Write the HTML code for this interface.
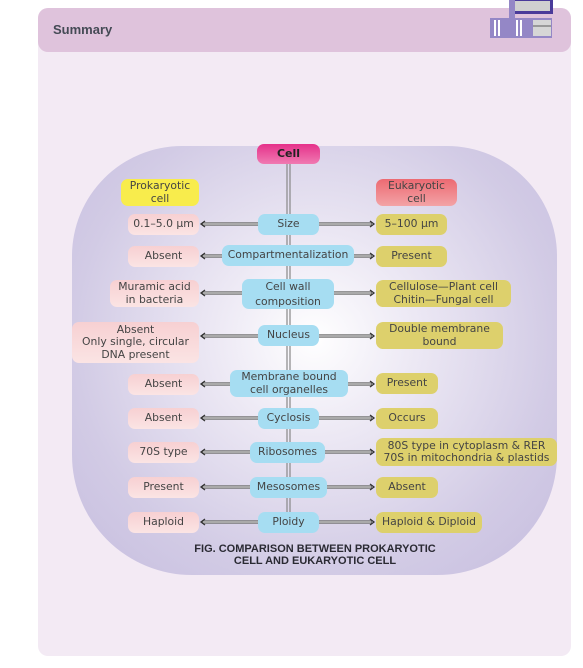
<!DOCTYPE html>
<html><head><meta charset="utf-8"><style>
*{margin:0;padding:0;box-sizing:border-box}
body{width:583px;height:668px;background:#fff;position:relative;overflow:hidden;font-family:"Liberation Sans",sans-serif}
.card{position:absolute;left:38px;top:8px;width:533px;height:648px;background:#f3eaf4;border-radius:10px}
.hdr{position:absolute;left:38px;top:8px;width:533px;height:44px;background:#dfc3dc;border-radius:10px}
.hdr span{position:absolute;left:15px;top:14px;font-weight:bold;font-size:13px;color:#444a55}
.blob{position:absolute;left:72px;top:146px;width:485px;height:429px;border-radius:110px 110px 120px 120px;background:radial-gradient(ellipse at 50% 45%,#ffffff 0%,#ece8f4 30%,#d2cbe5 70%,#c6bddf 100%)}
.b{position:absolute;display:flex;align-items:center;justify-content:center;text-align:center;font-family:"DejaVu Sans",sans-serif;font-size:10.8px;line-height:12.5px;color:#444;border-radius:7px;white-space:nowrap}
.c{background:#a6ddf2}
.p{background:linear-gradient(#f7d0d2,#fbe4e4)}
.o{background:#ddd06c}
svg{position:absolute;left:0;top:0}
.cap{position:absolute;left:150px;top:543px;width:330px;text-align:center;font-weight:bold;font-size:11px;line-height:12px;color:#2a2a33}
</style></head><body>
<div class="card"></div>
<div class="hdr"><span>Summary</span></div>
<svg width="583" height="60" style="z-index:2">
<rect x="509" y="0" width="44" height="14" fill="#4a3a9a"/>
<rect x="514" y="1" width="36" height="10" fill="#d0d0d0"/>
<rect x="509" y="0" width="6" height="19" fill="#9487c6"/>
<rect x="490" y="18" width="62" height="20" fill="#9487c6"/>
<rect x="533" y="20" width="18" height="16" fill="#d6d6d6"/>
<rect x="533" y="25" width="18" height="2" fill="#999"/>
<rect x="494" y="20" width="2" height="16" fill="#fff"/>
<rect x="498" y="20" width="2" height="16" fill="#fff"/>
<rect x="516" y="20" width="2" height="16" fill="#fff"/>
<rect x="520" y="20" width="2" height="16" fill="#fff"/>
</svg>
<div class="blob"></div>
<svg width="583" height="668">
<g stroke="#888" stroke-width="1.2" fill="none">
<line x1="287" y1="164" x2="287" y2="514"/><line x1="290" y1="164" x2="290" y2="514"/>
</g>
<g stroke="#777" stroke-width="3.5" fill="none">
<line x1="202" y1="224" x2="258" y2="224"/><line x1="319" y1="224" x2="372" y2="224"/>
<line x1="202" y1="256" x2="222" y2="256"/><line x1="354" y1="256" x2="372" y2="256"/>
<line x1="202" y1="293" x2="242" y2="293"/><line x1="334" y1="293" x2="372" y2="293"/>
<line x1="202" y1="336" x2="258" y2="336"/><line x1="319" y1="336" x2="372" y2="336"/>
<line x1="202" y1="384" x2="230" y2="384"/><line x1="348" y1="384" x2="372" y2="384"/>
<line x1="202" y1="418" x2="258" y2="418"/><line x1="319" y1="418" x2="372" y2="418"/>
<line x1="202" y1="452" x2="250" y2="452"/><line x1="325" y1="452" x2="372" y2="452"/>
<line x1="202" y1="487" x2="250" y2="487"/><line x1="327" y1="487" x2="372" y2="487"/>
<line x1="202" y1="522" x2="258" y2="522"/><line x1="319" y1="522" x2="372" y2="522"/>
</g>
<g stroke="#ddd" stroke-width="1" fill="none">
<line x1="203" y1="224" x2="258" y2="224"/><line x1="319" y1="224" x2="371" y2="224"/>
<line x1="203" y1="256" x2="222" y2="256"/><line x1="354" y1="256" x2="371" y2="256"/>
<line x1="203" y1="293" x2="242" y2="293"/><line x1="334" y1="293" x2="371" y2="293"/>
<line x1="203" y1="336" x2="258" y2="336"/><line x1="319" y1="336" x2="371" y2="336"/>
<line x1="203" y1="384" x2="230" y2="384"/><line x1="348" y1="384" x2="371" y2="384"/>
<line x1="203" y1="418" x2="258" y2="418"/><line x1="319" y1="418" x2="371" y2="418"/>
<line x1="203" y1="452" x2="250" y2="452"/><line x1="325" y1="452" x2="371" y2="452"/>
<line x1="203" y1="487" x2="250" y2="487"/><line x1="327" y1="487" x2="371" y2="487"/>
<line x1="203" y1="522" x2="258" y2="522"/><line x1="319" y1="522" x2="371" y2="522"/>
</g>
<g fill="none" stroke="#333" stroke-width="1.3">
<path d="M205 221 L201 224 L205 227"/><path d="M370 221 L374 224 L370 227"/>
<path d="M205 253 L201 256 L205 259"/><path d="M370 253 L374 256 L370 259"/>
<path d="M205 290 L201 293 L205 296"/><path d="M370 290 L374 293 L370 296"/>
<path d="M205 333 L201 336 L205 339"/><path d="M370 333 L374 336 L370 339"/>
<path d="M205 381 L201 384 L205 387"/><path d="M370 381 L374 384 L370 387"/>
<path d="M205 415 L201 418 L205 421"/><path d="M370 415 L374 418 L370 421"/>
<path d="M205 449 L201 452 L205 455"/><path d="M370 449 L374 452 L370 455"/>
<path d="M205 484 L201 487 L205 490"/><path d="M370 484 L374 487 L370 490"/>
<path d="M205 519 L201 522 L205 525"/><path d="M370 519 L374 522 L370 525"/>
</g>
</svg>
<div class="b" style="left:257px;top:144px;width:63px;height:20px;background:linear-gradient(#e5318a,#f07ab2);font-weight:bold;font-size:11px;color:#222">Cell</div>
<div class="b" style="left:121px;top:179px;width:78px;height:27px;background:#f8ec4c">Prokaryotic<br>cell</div>
<div class="b" style="left:376px;top:179px;width:81px;height:27px;background:linear-gradient(#ec6a72,#f3a3a6)">Eukaryotic<br>cell</div>

<div class="b c" style="left:258px;top:214px;width:61px;height:21px">Size</div>
<div class="b p" style="left:128px;top:214px;width:71px;height:21px">0.1–5.0 µm</div>
<div class="b o" style="left:376px;top:214px;width:71px;height:21px">5–100 µm</div>

<div class="b c" style="left:222px;top:245px;width:132px;height:21px">Compartmentalization</div>
<div class="b p" style="left:128px;top:246px;width:71px;height:21px">Absent</div>
<div class="b o" style="left:376px;top:246px;width:71px;height:21px">Present</div>

<div class="b c" style="left:242px;top:279px;width:92px;height:30px;line-height:15px">Cell wall<br>composition</div>
<div class="b p" style="left:110px;top:280px;width:89px;height:27px">Muramic acid<br>in bacteria</div>
<div class="b o" style="left:376px;top:280px;width:135px;height:27px">Cellulose—Plant cell<br>Chitin—Fungal cell</div>

<div class="b c" style="left:258px;top:325px;width:61px;height:21px">Nucleus</div>
<div class="b p" style="left:72px;top:322px;width:127px;height:41px">Absent<br>Only single, circular<br>DNA present</div>
<div class="b o" style="left:376px;top:322px;width:127px;height:27px">Double membrane<br>bound</div>

<div class="b c" style="left:230px;top:370px;width:118px;height:27px">Membrane bound<br>cell organelles</div>
<div class="b p" style="left:128px;top:374px;width:71px;height:21px">Absent</div>
<div class="b o" style="left:376px;top:373px;width:62px;height:21px">Present</div>

<div class="b c" style="left:258px;top:408px;width:61px;height:21px">Cyclosis</div>
<div class="b p" style="left:128px;top:408px;width:71px;height:21px">Absent</div>
<div class="b o" style="left:376px;top:408px;width:62px;height:21px">Occurs</div>

<div class="b c" style="left:250px;top:442px;width:75px;height:21px">Ribosomes</div>
<div class="b p" style="left:128px;top:442px;width:71px;height:21px">70S type</div>
<div class="b o" style="left:376px;top:438px;width:181px;height:28px">80S type in cytoplasm &amp; RER<br>70S in mitochondria &amp; plastids</div>

<div class="b c" style="left:250px;top:477px;width:77px;height:21px">Mesosomes</div>
<div class="b p" style="left:128px;top:477px;width:71px;height:21px">Present</div>
<div class="b o" style="left:376px;top:477px;width:62px;height:21px">Absent</div>

<div class="b c" style="left:258px;top:512px;width:61px;height:21px">Ploidy</div>
<div class="b p" style="left:128px;top:512px;width:71px;height:21px">Haploid</div>
<div class="b o" style="left:376px;top:512px;width:106px;height:21px">Haploid &amp; Diploid</div>

<div class="cap">FIG. COMPARISON BETWEEN PROKARYOTIC<br>CELL AND EUKARYOTIC CELL</div>
</body></html>
